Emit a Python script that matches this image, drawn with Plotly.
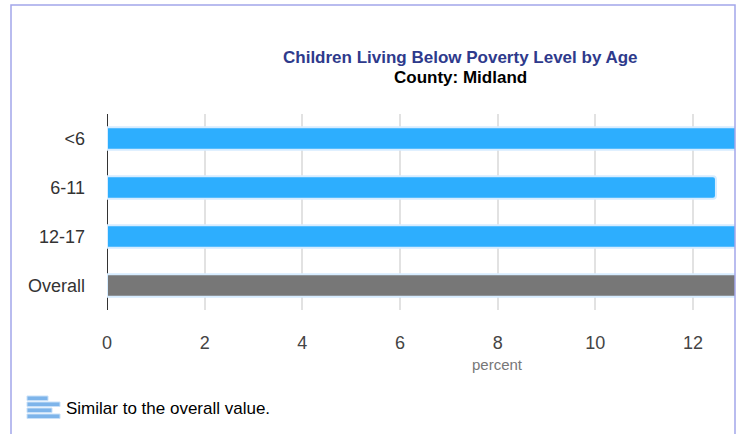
import plotly.graph_objects as go

# Data
categories = ["<6", "6-11", "12-17", "Overall"]
values = [13.6, 12.47, 13.2, 13.3]
bar_colors = ["#2daefe", "#2daefe", "#2daefe", "#777777"]
x_ticks = [0, 2, 4, 6, 8, 10, 12]

title_text = "Children Living Below Poverty Level by Age"
subtitle_text = "County: Midland"
x_title = "percent"
legend_text = "Similar to the overall value."

W, H = 743, 434
ML, MR, MT, MB = 107, 8, 114, 124
PW = W - ML - MR
PH = H - MT - MB


def px(xp):
    return (xp - ML) / PW


def py(yp):
    return (H - MB - yp) / PH


fig = go.Figure()
fig.add_trace(go.Bar(
    x=values, y=categories, orientation="h",
    marker=dict(color=bar_colors, line=dict(color="#d6ecff", width=2), cornerradius=3),
    width=0.46, hoverinfo="x+y",
))

font_family = "Liberation Sans, Arial, sans-serif"

fig.update_layout(
    width=W, height=H,
    margin=dict(l=ML, r=MR, t=MT, b=MB, pad=0),
    paper_bgcolor="white", plot_bgcolor="white",
    showlegend=False,
    font=dict(family=font_family),
    bargap=0.54,
)

fig.update_xaxes(
    range=[0, 12.86], tickvals=x_ticks, ticktext=[str(t) for t in x_ticks],
    showgrid=True, gridcolor="#e2e2e2", gridwidth=1.5,
    zeroline=True, zerolinecolor="#333333", zerolinewidth=1.3,
    showline=False, ticks="",
    tickfont=dict(size=18, color="#444444"),
    ticklabelstandoff=20,
)
fig.update_yaxes(
    autorange="reversed", showgrid=False, showline=False, ticks="",
    tickfont=dict(size=18, color="#333333"),
    ticklabelstandoff=21,
)

annotations = [
    dict(text="<b>" + title_text + "</b>", x=px(460), y=py(58), xref="paper", yref="paper",
         showarrow=False, font=dict(size=17, color="#2e3a8c", family=font_family),
         xanchor="center", yanchor="middle"),
    dict(text="<b>" + subtitle_text + "</b>", x=px(460), y=py(77), xref="paper", yref="paper",
         showarrow=False, font=dict(size=17, color="#000000", family=font_family),
         xanchor="center", yanchor="middle"),
    dict(text=x_title, x=8, y=py(364), xref="x", yref="paper",
         showarrow=False, font=dict(size=15, color="#777777", family=font_family),
         xanchor="center", yanchor="middle"),
    dict(text=legend_text, x=px(64), y=py(408), xref="paper", yref="paper",
         showarrow=False, font=dict(size=17, color="#000000", family=font_family),
         xanchor="left", yanchor="middle"),
]
fig.update_layout(annotations=annotations)

shapes = []
# frame
shapes.append(dict(type="rect", xref="paper", yref="paper",
                   x0=px(11), x1=px(735), y0=py(436), y1=py(5),
                   line=dict(color="#a3a7ea", width=1.5), fillcolor="rgba(0,0,0,0)", layer="above"))
# legend icon
icon_rows = [(396, 48), (402, 60), (408, 52), (414, 60)]
for yy, xe in icon_rows:
    shapes.append(dict(type="rect", xref="paper", yref="paper",
                       x0=px(27), x1=px(xe), y0=py(yy + 4.5), y1=py(yy),
                       line=dict(color="#c8e0f8", width=1), fillcolor="#7db4ea", layer="above"))
fig.update_layout(shapes=shapes)

fig.write_html("out.html", config={"displayModeBar": False},
               post_script="document.body.style.margin='0';")
